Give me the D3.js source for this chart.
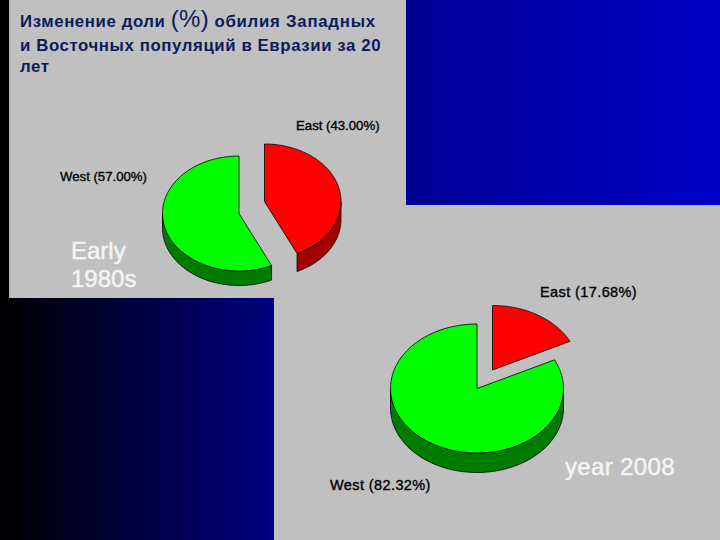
<!DOCTYPE html>
<html><head><meta charset="utf-8">
<style>html,body{margin:0;padding:0;background:#c0c0c0}svg{display:block}</style>
<script src="https://cdn.jsdelivr.net/npm/d3@7/dist/d3.min.js"></script>
</head><body><svg id="c" width="720" height="540"></svg>
<script>
const categories = ["East", "West"];
const valuesEarly = [43.00, 57.00];
const values2008 = [17.68, 82.32];
const periodLabels = [["Early", "1980s"], ["year 2008"]];
const titleLines = ["Изменение доли ", "(%)", " обилия Западных", "и Восточных популяций в Евразии за 20", "лет"];

const svg = d3.select("#c");
const W = 720, H = 540, NS = "Liberation Sans, Arial, sans-serif";
const defs = svg.append("defs");
function grad(id, a, b) {
  const g = defs.append("linearGradient").attr("id", id);
  g.append("stop").attr("offset", 0).attr("stop-color", a);
  g.append("stop").attr("offset", 1).attr("stop-color", b);
}
grad("gL", "#000000", "#000082");
grad("gR", "#000094", "#0000c8");

svg.append("rect").attr("width", W).attr("height", H).attr("fill", "#c0c0c0");
svg.append("rect").attr("width", 9).attr("height", 300).attr("fill", "#000");
svg.append("rect").attr("x", 9).attr("width", 1.5).attr("height", 298).attr("fill", "#b4b4b4");
svg.append("rect").attr("x", 0).attr("y", 298).attr("width", 274).attr("height", 242).attr("fill", "url(#gL)");
svg.append("rect").attr("x", 406).attr("y", 0).attr("width", 314).attr("height", 205).attr("fill", "url(#gR)");

const colour = d3.scaleOrdinal().domain(categories).range(["#ff0000", "#00ff00"]);
const wall = d3.scaleOrdinal().domain(categories).range(["#a00000", "#007c00"]);
const pie = d3.pie().sort(null);

function drawPie(values, cfg) {
  const arcs = pie(values);
  const g = svg.append("g");
  const sx = d3.scaleLinear().domain([-1, 1]).range([-cfg.rx, cfg.rx]);
  const sy = d3.scaleLinear().domain([-1, 1]).range([-cfg.ry, cfg.ry]);
  const line = d3.line();
  arcs.forEach((a, i) => {
    const name = categories[i];
    const [ox, oy] = cfg.apex[i];
    const pt = (t, dy) => [ox + sx(Math.sin(t)), oy - sy(Math.cos(t)) + dy];
    const lo = Math.max(a.startAngle, Math.PI / 2), hi = Math.min(a.endAngle, 3 * Math.PI / 2);
    if (hi > lo) {
      const ts = d3.range(0, 81).map(k => lo + (hi - lo) * k / 80);
      const pts = ts.map(t => pt(t, 0)).concat(ts.slice().reverse().map(t => pt(t, cfg.depth[i])));
      g.append("path").attr("d", line(pts) + "Z").attr("fill", wall(name))
        .attr("stroke", "#000").attr("stroke-width", 0.8).attr("stroke-linejoin", "round");
    }
    const ts = d3.range(0, 121).map(k => a.startAngle + (a.endAngle - a.startAngle) * k / 120);
    const pts = [[ox, oy]].concat(ts.map(t => pt(t, 0)));
    g.append("path").attr("d", line(pts) + "Z").attr("fill", colour(name))
      .attr("stroke", "#000").attr("stroke-width", 0.8).attr("stroke-linejoin", "round");
    svg.append("text").attr("x", cfg.label[i][0]).attr("y", cfg.label[i][1])
      .attr("font-family", NS).attr("font-size", cfg.fs).attr("letter-spacing", cfg.ls).attr("fill", "#000")
      .attr("stroke", "#000").attr("stroke-width", 0.35)
      .text(`${name} (${values[i].toFixed(2)}%)`);
  });
}

drawPie(valuesEarly, {rx: 76.5, ry: 57.5, depth: [18, 14.5], fs: 13.2, ls: 0, apex: [[264.5, 201.5], [239, 213.5]], label: [[296, 130], [60, 181]]});
drawPie(values2008, {rx: 86.5, ry: 64.5, depth: [19.5, 19.5], fs: 14.5, ls: 0.4, apex: [[492.5, 370], [477, 388.5]], label: [[540, 297], [330, 490]]});

const navy = "#0d1a5e";
const tt = svg.append("text").attr("font-family", NS).attr("font-weight", 700).attr("fill", navy)
  .attr("font-size", 16.8).attr("letter-spacing", 0.6);
const t1 = tt.append("tspan").attr("x", 20).attr("y", 27);
t1.append("tspan").text(titleLines[0]);
t1.append("tspan").attr("font-size", 24).attr("font-weight", 400).attr("letter-spacing", 0.3).text(titleLines[1]);
t1.append("tspan").attr("letter-spacing", 0.75).text(titleLines[2]);
tt.append("tspan").attr("x", 20).attr("y", 51).text(titleLines[3]);
tt.append("tspan").attr("x", 20).attr("y", 72).text(titleLines[4]);

const white = "#f4f4f4";
periodLabels[0].forEach((s, i) => svg.append("text").attr("x", 71).attr("y", [259, 287][i])
  .attr("font-family", NS).attr("font-size", 24).attr("fill", white).attr("stroke", white).attr("stroke-width", 0.5).text(s));
svg.append("text").attr("x", 565).attr("y", 475).attr("font-family", NS).attr("font-size", 24).attr("letter-spacing", 0.35)
  .attr("fill", white).attr("stroke", white).attr("stroke-width", 0.5).text(periodLabels[1][0]);
</script></body></html>
